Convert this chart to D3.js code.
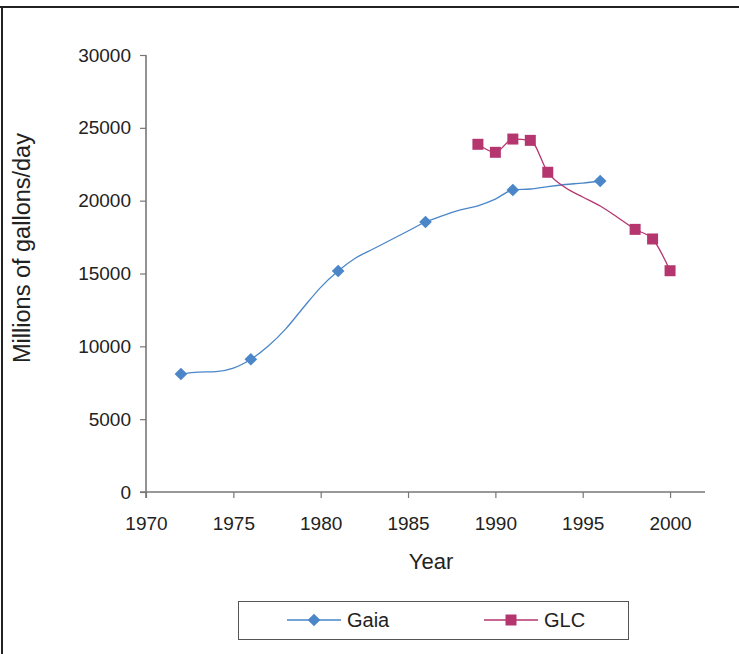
<!DOCTYPE html>
<html>
<head>
<meta charset="utf-8">
<script src="https://cdn.jsdelivr.net/npm/d3@7"></script>
<style>
  html, body { margin: 0; padding: 0; background: #fff; }
  svg { display: block; font-family: "Liberation Sans", Arial, sans-serif; }
</style>
</head>
<body>
<svg id="chart" width="739" height="654"></svg>
<script>
// Gaia annual water demand estimates (millions of gallons/day)
const gaiaYears  = [1972, 1973, 1974, 1975, 1976, 1977, 1978, 1979, 1980, 1981, 1982, 1983, 1984,
                    1985, 1986, 1987, 1988, 1989, 1990, 1991, 1992, 1993, 1994, 1995, 1996];
const gaiaValues = [8100, 8230, 8260, 8500, 9110, 10020, 11200, 12650, 14050, 15170, 16060, 16680, 17300,
                    17920, 18535, 18980, 19360, 19650, 20110, 20730, 20800, 20970, 21110, 21210, 21350];
const gaiaMarkerYears = [1972, 1976, 1981, 1986, 1991, 1996];

// GLC annual estimates
const glcYears  = [1989, 1990, 1991, 1992, 1993, 1994, 1995, 1996, 1997, 1998, 1999, 2000];
const glcValues = [23870, 23320, 24230, 24140, 21950, 20900, 20250, 19630, 18850, 18030, 17370, 15190];
const glcMarkerYears = [1989, 1990, 1991, 1992, 1993, 1998, 1999, 2000];

const xTicks = [1970, 1975, 1980, 1985, 1990, 1995, 2000];
const yTicks = [0, 5000, 10000, 15000, 20000, 25000, 30000];

const seriesNames  = ["Gaia", "GLC"];
const seriesColors = ["#4a86c8", "#b5366f"];

const svg = d3.select("#chart");
const font = "Liberation Sans, Arial, sans-serif";

// outer frame: top and left rules
svg.append("line").attr("x1", 0).attr("x2", 739).attr("y1", 7).attr("y2", 7)
  .attr("stroke", "#222").attr("stroke-width", 2);
svg.append("line").attr("x1", 2).attr("x2", 2).attr("y1", 6).attr("y2", 654)
  .attr("stroke", "#222").attr("stroke-width", 2);

const x = d3.scaleLinear().domain([1970, 2002]).range([146, 705]);
const y = d3.scaleLinear().domain([0, 30000]).range([492, 55]);

const axisColor = "#777";

// y axis
const yAxis = svg.append("g").attr("transform", "translate(146,0)")
  .call(d3.axisLeft(y).tickValues(yTicks).tickSize(6).tickPadding(9).tickFormat(d3.format("d")));
yAxis.select(".domain").attr("stroke", axisColor).attr("stroke-width", 1.6)
  .attr("d", `M0,${y(30000)}V${y(0) + 6}`);
yAxis.selectAll(".tick line").attr("stroke", axisColor).attr("stroke-width", 1.2);
yAxis.selectAll(".tick text").attr("fill", "#222").attr("font-size", 19).attr("font-family", font);

// x axis
const xAxis = svg.append("g").attr("transform", `translate(0,${y(0)})`)
  .call(d3.axisBottom(x).tickValues(xTicks).tickSize(6).tickPadding(19).tickFormat(d3.format("d")));
xAxis.select(".domain").attr("stroke", axisColor).attr("stroke-width", 1.6)
  .attr("d", `M${x(1970) - 6},0H${x(2002)}`);
xAxis.selectAll(".tick line").attr("stroke", axisColor).attr("stroke-width", 1.2);
xAxis.selectAll(".tick text").attr("fill", "#222").attr("font-size", 19).attr("font-family", font);

// axis titles
svg.append("text").attr("x", 431).attr("y", 569).attr("text-anchor", "middle")
  .attr("font-size", 22).attr("fill", "#222").text("Year");
svg.append("text").attr("transform", "translate(30,248) rotate(-90)").attr("text-anchor", "middle")
  .attr("font-size", 23.5).attr("fill", "#222").text("Millions of gallons/day");

const line = d3.line().x(d => x(d[0])).y(d => y(d[1])).curve(d3.curveMonotoneX);

const diamond = d3.symbol().type(d3.symbolSquare).size(80);
const square = d3.symbol().type(d3.symbolSquare).size(121);

function drawSeries(years, values, markerYears, color, sym, rot) {
  const pts = years.map((yr, i) => [yr, values[i]]);
  svg.append("path").datum(pts).attr("d", line)
    .attr("fill", "none").attr("stroke", color).attr("stroke-width", 1.3);
  svg.append("g").selectAll("path").data(pts.filter(p => markerYears.includes(p[0])))
    .join("path")
    .attr("d", sym)
    .attr("transform", p => `translate(${x(p[0])},${y(p[1])})${rot}`)
    .attr("fill", color);
}

drawSeries(gaiaYears, gaiaValues, gaiaMarkerYears, seriesColors[0], diamond, " rotate(45)");
drawSeries(glcYears, glcValues, glcMarkerYears, seriesColors[1], square, "");

// legend
const legend = svg.append("g");
legend.append("rect").attr("x", 238.5).attr("y", 601.5).attr("width", 390).attr("height", 38)
  .attr("fill", "#fff").attr("stroke", "#555").attr("stroke-width", 1);
const legendItems = [
  { name: seriesNames[0], color: seriesColors[0], sym: diamond, rot: " rotate(45)", x0: 287 },
  { name: seriesNames[1], color: seriesColors[1], sym: square, rot: "", x0: 484 }
];
legendItems.forEach(it => {
  legend.append("line").attr("x1", it.x0).attr("x2", it.x0 + 54).attr("y1", 620).attr("y2", 620)
    .attr("stroke", it.color).attr("stroke-width", 1.3);
  legend.append("path").attr("d", it.sym)
    .attr("transform", `translate(${it.x0 + 27},620)${it.rot}`).attr("fill", it.color);
  legend.append("text").attr("x", it.x0 + 60).attr("y", 627).attr("font-size", 20)
    .attr("fill", "#222").attr("font-family", font).text(it.name);
});
</script>
</body>
</html>
